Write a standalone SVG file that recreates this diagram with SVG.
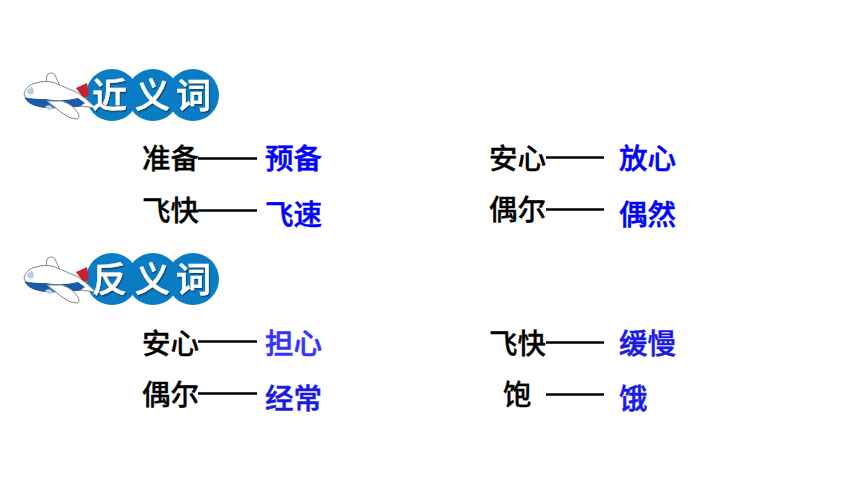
<svg xmlns="http://www.w3.org/2000/svg" width="860" height="484" viewBox="0 0 860 484">
<style>
text{font-family:"Noto Sans CJK SC","Noto Sans CJK JP",sans-serif;font-size:28.5px;font-weight:500}
.k{fill:#000;stroke:#000;stroke-width:.3}
.b{fill:#0000ff;stroke:#0000ff;stroke-width:.5}
.b2{fill:#1a1ae6;stroke:#1a1ae6;stroke-width:.5}
.b3{fill:#3333ff;stroke:#3333ff;stroke-width:.5}
.c{stroke:#000;stroke-width:2.4;fill:none}
.t{fill:#fff;stroke:#fff;stroke-width:.5;font-size:35px;font-weight:500;filter:url(#s)}
.p{fill:#0a7cc4}
</style>
<defs>
<filter id="s" x="-20%" y="-20%" width="140%" height="140%"><feDropShadow dx="1" dy="1.5" stdDeviation="0.6" flood-color="#0a3a5c" flood-opacity="0.8"/></filter>
<g id="plane">
<path d="M46 83 L47 75 Q52 71 55 75 L60 86 Z" fill="#fff" stroke="#8a8a8a" stroke-width="1"/>
<path d="M76 88 L87 83 L89 95 L84 99 Z" fill="#c8202c"/>
<path d="M24 94 Q26 85 36 83 Q48 79 60 85 L78 93 Q88 100 96 108 L80 106 Q55 109 42 107 Q26 104 24 94 Z" fill="#fff" stroke="#8a8a8a" stroke-width="1"/>
<path d="M24.500 97 Q31 99 45 99 Q62 102 78 98 L85 103 L80 106.500 Q55 109.500 42 107.500 Q27 105 24.500 97 Z" fill="#1a5aa8"/>
<path d="M27 93 Q27 88 32 87 Q35 90 33 94 Q29 95 27 93 Z" fill="#b5cfe3"/>
<path d="M47 101 L62 101 Q72 104 78 113 Q81 119 76 119 Q70 119 62 113 Z" fill="#fff" stroke="#8a8a8a" stroke-width="1"/>
<path d="M45 106 L50 105 L54 109 L48 110 Z" fill="#b5cfe3"/>
</g>
</defs>
<rect width="860" height="484" fill="#fff"/>
<g id="heading-synonyms">
<circle class="p" cx="112" cy="95" r="26"/><circle class="p" cx="153" cy="95" r="26"/><circle class="p" cx="193" cy="95" r="26"/>
<use href="#plane"/>
<text class="t" x="92" y="108">近</text><text class="t" x="135" y="108">义</text><text class="t" x="176" y="108">词</text>
</g>
<g id="heading-antonyms">
<circle class="p" cx="112" cy="279" r="26"/><circle class="p" cx="153" cy="279" r="26"/><circle class="p" cx="193" cy="279" r="26"/>
<use href="#plane" y="184"/>
<text class="t" x="92" y="292">反</text><text class="t" x="135" y="292">义</text><text class="t" x="176" y="292">词</text>
</g>
<g id="connectors">
<path class="c" d="M198 158.500H257M198 210.500H257M546 157.500H604M546 209.500H604M198 341.500H257M198 393.500H257M546 342.500H604M546 394.500H604"/>
</g>
<g id="n1"><text class="k" x="142" y="169">准备</text><text class="b" x="265" y="169">预备</text></g>
<g id="n2"><text class="k" x="142" y="221">飞快</text><text class="b" x="265" y="225">飞速</text></g>
<g id="n3"><text class="k" x="489" y="169">安心</text><text class="b" x="619" y="169">放心</text></g>
<g id="n4"><text class="k" x="489" y="220">偶尔</text><text class="b" x="619" y="225">偶然</text></g>
<g id="n5"><text class="k" x="142" y="354">安心</text><text class="b3" x="265" y="354">担心</text></g>
<g id="n6"><text class="k" x="142" y="405">偶尔</text><text class="b2" x="265" y="409">经常</text></g>
<g id="n7"><text class="k" x="489" y="354">飞快</text><text class="b2" x="619" y="354">缓慢</text></g>
<g id="n8"><text class="k" x="503" y="405">饱</text><text class="b2" x="619" y="409">饿</text></g>
</svg>
